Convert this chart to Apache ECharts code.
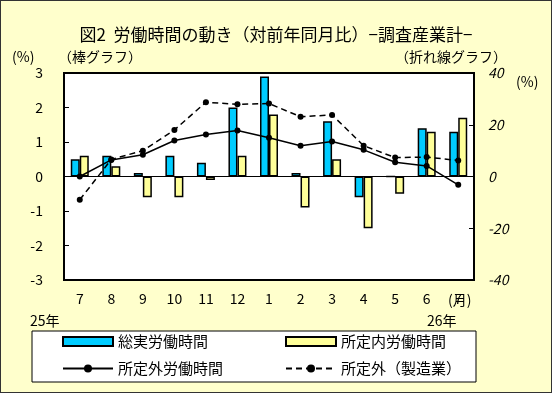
<!DOCTYPE html>
<html><head><meta charset="utf-8">
<script src="https://cdn.jsdelivr.net/npm/echarts@6/dist/echarts.min.js"></script>
<style>
html,body{margin:0;padding:0;background:#FFFFCC;}
#c{width:552px;height:393px;box-sizing:border-box;}
#frame{position:absolute;left:0;top:0;width:552px;height:393px;box-sizing:border-box;border:1px solid #333;pointer-events:none;}
</style></head>
<body>
<div id="c"></div><div id="frame"></div>
<script>
const months = ['7','8','9','10','11','12','1','2','3','4','5','6','7'];
const leftTicks = [-3,-2,-1,0,1,2,3];
const rightTicks = [-40,-20,0,20,40];
const totalHours = [0.5,0.6,0.1,0.6,0.4,2.0,2.9,0.1,1.6,-0.6,0,1.4,1.3];
const scheduledHours = [0.6,0.3,-0.6,-0.6,-0.1,0.6,1.8,-0.9,0.5,-1.5,-0.5,1.3,1.7];
const overtimeHours = [0.0,6.4,8.4,13.9,16.2,17.8,15.0,11.9,13.5,10.3,5.5,4.1,-3.2];
const overtimeMfg = [-9.0,6.6,10.0,18.0,28.7,27.9,28.2,23.1,23.8,11.9,7.3,7.5,6.2];

const FONT = '"Noto Sans CJK JP", sans-serif';
const chart = echarts.init(document.getElementById('c'), null, {renderer:'canvas'});
const txt = (x,y,t,size,align) => ({type:'text', x:x, y:y, style:{text:t, fill:'#000', font:(size||14)+'px '+FONT, textAlign:align||'left', textVerticalAlign:'middle'}});
const legendText = {fontSize:15, color:'#000'};
chart.setOption({
  backgroundColor:'#FFFFCC',
  animation:false,
  textStyle:{fontFamily:FONT},
  title:{text:'図2  労働時間の動き（対前年同月比）−調査産業計−', left:'center', top:21,
    textStyle:{fontSize:17, fontWeight:'normal', color:'#000', fontFamily:FONT}},
  grid:{left:64, right:78, top:73, bottom:113, show:true, backgroundColor:'#fff', borderColor:'#000', borderWidth:2},
  xAxis:{type:'category', data:months, axisLine:{show:false}, axisTick:{show:false},
    axisLabel:{color:'#000', fontSize:14, margin:12, fontFamily:FONT}},
  yAxis:[
    {type:'value', min:leftTicks[0], max:leftTicks[leftTicks.length-1], interval:1, position:'left',
      axisLine:{show:true, lineStyle:{color:'#000', width:2}}, axisTick:{show:true, inside:true, length:5, lineStyle:{color:'#000'}},
      splitLine:{show:false}, axisLabel:{color:'#000', fontSize:14, margin:21, fontFamily:FONT}},
    {type:'value', min:rightTicks[0], max:rightTicks[rightTicks.length-1], interval:20, position:'right',
      axisLine:{show:true, lineStyle:{color:'#000', width:2}}, axisTick:{show:true, inside:true, length:5, lineStyle:{color:'#000'}},
      splitLine:{show:false}, axisLabel:{color:'#000', fontSize:14, fontStyle:'italic', margin:14, fontFamily:FONT}}
  ],
  legend:[
    {data:[{name:'総実労働時間', icon:'rect'}], left:62, top:334, padding:0, itemWidth:50, itemHeight:9, textStyle:legendText},
    {data:[{name:'所定内労働時間', icon:'rect'}], left:285, top:334, padding:0, itemWidth:50, itemHeight:9, textStyle:legendText},
    {data:['所定外労働時間'], left:62, top:361, padding:0, itemWidth:50, itemHeight:10, textStyle:legendText},
    {data:['所定外（製造業）'], left:285, top:361, padding:0, itemWidth:50, itemHeight:10, textStyle:legendText}
  ],
  graphic:[
    {type:'rect', z:-1, shape:{x:32, y:331, width:444, height:51}, style:{fill:'#fff', stroke:'#000', lineWidth:1}},
    txt(12,57,'(%)',14),
    txt(58,57,'（棒グラフ）',14),
    txt(395,57,'（折れ線グラフ）',14),
    txt(516,82,'(%)',14),
    txt(448,300,'(月)',14),
    txt(30,321,'25年',14),
    txt(427,321,'26年',14)
  ],
  series:[
    {name:'総実労働時間', type:'bar', data:totalHours, barWidth:9, barGap:'0%', z:2,
      itemStyle:{color:'#00CCFF', borderColor:'#000', borderWidth:1.5},
      markLine:{silent:true, symbol:'none', label:{show:false}, lineStyle:{color:'#000', width:1, type:'solid'}, data:[{yAxis:0}]}},
    {name:'所定内労働時間', type:'bar', data:scheduledHours, barWidth:9, z:2,
      itemStyle:{color:'#FFFF99', borderColor:'#000', borderWidth:1.5}},
    {name:'所定外労働時間', type:'line', yAxisIndex:1, data:overtimeHours, z:5,
      symbol:'circle', symbolSize:6, itemStyle:{color:'#000'}, lineStyle:{color:'#000', width:1.5}},
    {name:'所定外（製造業）', type:'line', yAxisIndex:1, data:overtimeMfg, z:5,
      symbol:'circle', symbolSize:6, itemStyle:{color:'#000'}, lineStyle:{color:'#000', width:1.5, type:[6,4]}}
  ]
});
</script>
</body></html>
